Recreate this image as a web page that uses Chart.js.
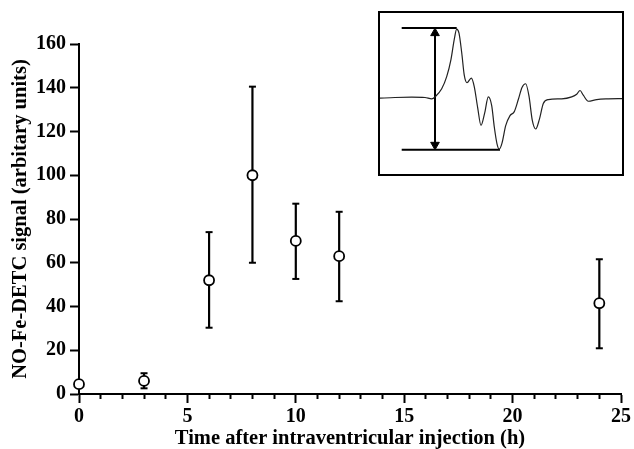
<!DOCTYPE html>
<html>
<head>
<meta charset="utf-8">
<script src="https://cdn.jsdelivr.net/npm/chart.js@4.4.1/dist/chart.umd.min.js"></script>
<style>
  body { margin: 0; background: #fff; }
  #wrap { position: relative; width: 634px; height: 449px; }
  #inset {
    position: absolute; left: 378px; top: 11px; width: 246px; height: 165px;
    border: 2px solid #000; box-sizing: border-box; background: #fff;
  }
</style>
</head>
<body>
<div id="wrap">
  <canvas id="mainChart" width="634" height="449"></canvas>
  <div id="inset"><canvas id="insetChart" width="242" height="161"></canvas></div>
</div>
<script>
// main data: time (h), mean signal, error bar ends
var times = [0, 3, 6, 8, 10, 12, 24];
var signal = [4.5, 6, 52, 100, 70, 63, 41.5];
var errHigh = [6, 9.5, 74, 140.5, 87, 83.3, 61.6];
var errLow = [3, 2.6, 30.3, 60, 52.6, 42.4, 20.9];
var yTicks = [0, 20, 40, 60, 80, 100, 120, 140, 160];

// inset EPR trace (field position, amplitude)
var specX = [0, 16, 32.7, 46, 52.7, 56.7, 62.7, 67.7, 72, 75.3, 77.7, 80, 82.7, 85.3, 88, 92.3, 95.3, 98.7, 102, 105.7, 109.3, 112.7, 115.3, 118, 120.3, 123, 126.7, 131, 135.3, 139.3, 143, 146.7, 150, 153.3, 156.7, 160.3, 164.3, 169.3, 182.7, 192.7, 197.7, 201, 204.3, 209.3, 217.7, 229.3, 244];
var specY = [76.3, 77, 77.3, 77, 75.7, 78.3, 85.7, 97.7, 115, 135, 145, 141, 121.7, 99, 91.7, 96.3, 87.7, 66.7, 49.3, 61.7, 77.7, 69, 47.7, 31, 25.7, 31.7, 49, 59, 63, 75, 87, 90.7, 78.3, 54.3, 45.7, 55, 71, 75, 75.7, 77.7, 80.3, 84, 79.3, 73.3, 75, 75.7, 76];
var peakTop = 146, peakBottom = 25;
var ruleStart = 22.7, topRuleEnd = 77.7, bottomRuleEnd = 121, arrowX = 56;

Chart.defaults.font.family = '"Liberation Serif", "Times New Roman", serif';
Chart.defaults.font.weight = 'bold';
Chart.defaults.color = '#000';

var pointData = times.map(function (t, i) { return { x: t, y: signal[i] }; });
var datasets = [{
    type: 'scatter',
    data: pointData,
    pointStyle: 'circle',
    pointRadius: 5,
    pointBorderWidth: 1.8,
    pointBackgroundColor: '#fff',
    pointBorderColor: '#000',
    clip: false
}];
times.forEach(function (t, i) {
    datasets.push({
        type: 'line',
        data: [{ x: t, y: errLow[i] }, { x: t, y: errHigh[i] }],
        borderColor: '#000',
        borderWidth: 2.2,
        pointStyle: 'line',
        pointRadius: 3.5,
        pointBorderWidth: 2,
        pointBorderColor: '#000',
        clip: false
    });
});

var mainChart = new Chart(document.getElementById('mainChart').getContext('2d'), {
    type: 'scatter',
    data: { datasets: datasets },
    options: {
        responsive: false,
        animation: false,
        layout: { padding: { left: 0, top: 44, right: 13, bottom: 0 } },
        plugins: { legend: { display: false }, tooltip: { enabled: false } },
        scales: {
            x: {
                type: 'linear', min: 0, max: 25,
                afterFit: function (s) { s.height = 55; },
                border: { color: '#000', width: 2 },
                grid: {
                    drawOnChartArea: false, tickLength: 9, tickColor: '#000', tickWidth: 2,
                    tickBorderDash: function (ctx) { return ctx.tick && ctx.tick.value % 5 === 0 ? [] : [4, 30]; }
                },
                ticks: {
                    stepSize: 1, autoSkip: false, maxRotation: 0, padding: 2,
                    font: { size: 20 },
                    callback: function (v) { return v % 5 === 0 ? v : ''; }
                },
                title: {
                    display: true, text: 'Time after intraventricular injection (h)',
                    font: { size: 20.5, lineHeight: 1 }, padding: { top: 0, bottom: 0 }
                }
            },
            y: {
                min: 0, max: 160,
                afterFit: function (s) { s.width = 79; },
                afterBuildTicks: function (s) { s.ticks = yTicks.map(function (v) { return { value: v }; }); },
                border: { color: '#000', width: 2 },
                grid: { drawOnChartArea: false, tickLength: 9, tickColor: '#000', tickWidth: 2 },
                ticks: { padding: 4, font: { size: 20 } },
                title: {
                    display: true, text: 'NO-Fe-DETC signal (arbitary units)',
                    font: { size: 20.5, lineHeight: 1.2 }, padding: { top: 8, bottom: 0 }
                }
            }
        }
    }
});

var spectrum = specX.map(function (x, i) { return { x: x, y: specY[i] }; });
var insetChart = new Chart(document.getElementById('insetChart').getContext('2d'), {
    type: 'line',
    data: {
        datasets: [{
            data: spectrum,
            borderColor: '#222',
            borderWidth: 1.2,
            pointRadius: 0,
            cubicInterpolationMode: 'monotone'
        }, {
            data: [{ x: ruleStart, y: peakTop }, { x: topRuleEnd, y: peakTop }],
            borderColor: '#000', borderWidth: 2, pointRadius: 0
        }, {
            data: [{ x: ruleStart, y: peakBottom }, { x: bottomRuleEnd, y: peakBottom }],
            borderColor: '#000', borderWidth: 2, pointRadius: 0
        }, {
            data: [{ x: arrowX, y: peakTop - 5 }, { x: arrowX, y: peakBottom + 5 }],
            borderColor: '#000', borderWidth: 2,
            pointStyle: 'triangle', pointRadius: 5, pointRotation: [0, 180],
            pointBackgroundColor: '#000', pointBorderColor: '#000', pointBorderWidth: 1
        }]
    },
    options: {
        responsive: false,
        animation: false,
        layout: { padding: 0, autoPadding: false },
        plugins: { legend: { display: false }, tooltip: { enabled: false } },
        scales: {
            x: { type: 'linear', min: 1, max: 243, display: false },
            y: { type: 'linear', min: 1, max: 161, display: false }
        }
    }
});
</script>
</body>
</html>
